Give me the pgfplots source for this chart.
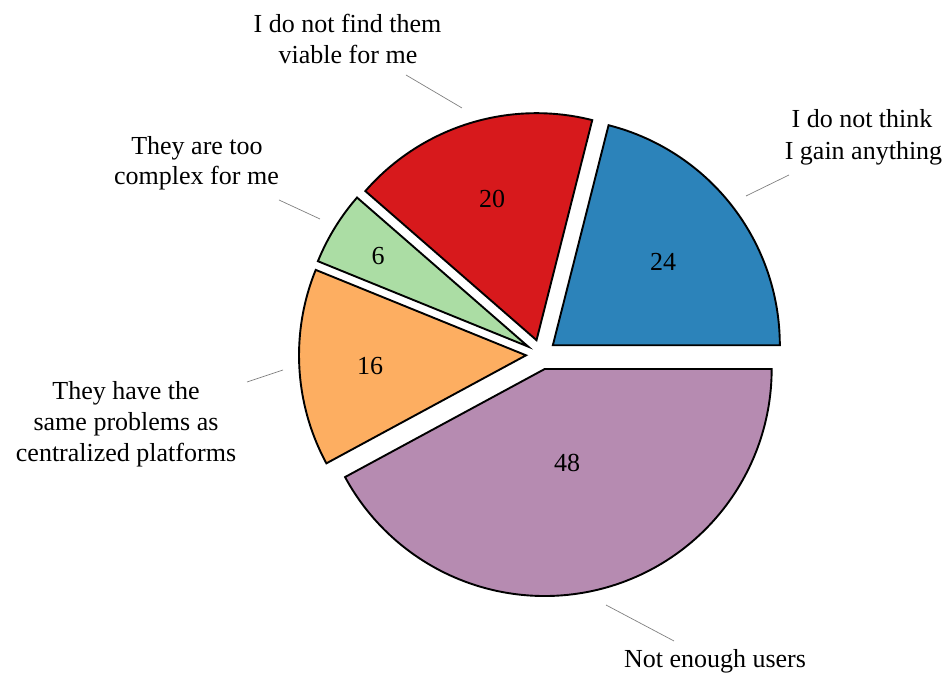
\documentclass[border=0pt]{standalone}
\usepackage{pgfplots}
\pgfplotsset{compat=1.18}
\usepackage{fontspec}
\setmainfont{Liberation Serif}
\definecolor{cA}{HTML}{2C83BA}
\definecolor{cB}{HTML}{D7191C}
\definecolor{cC}{HTML}{ABDDA4}
\definecolor{cD}{HTML}{FDAE61}
\definecolor{cE}{HTML}{B68BB1}
% data
\def\vA{24}\def\vB{20}\def\vC{6}\def\vD{16}\def\vE{48}
\pgfmathsetmacro\total{\vA+\vB+\vC+\vD+\vE}
\pgfmathsetmacro\unit{360/\total}
\pgfmathsetmacro\aA{0}
\pgfmathsetmacro\aB{\aA+\unit*\vA}
\pgfmathsetmacro\aC{\aB+\unit*\vB}
\pgfmathsetmacro\aD{\aC+\unit*\vC}
\pgfmathsetmacro\aE{\aD+\unit*\vD}
\def\aF{360}
\def\cx{541}\def\cy{324.5}\def\rad{227}\def\expl{15}
\newcommand\slice[3]{%
  \pgfmathsetmacro\sm{(#1+#2)/2}%
  \pgfmathsetmacro\sx{\cx+\expl*cos(\sm)}%
  \pgfmathsetmacro\sy{\cy+\expl*sin(\sm)}%
  \edef\doit{\noexpand\addplot[fill=#3, draw=black, line width=1.9pt, line join=miter, domain=#1:#2, samples=120]
    ({\sx+\rad*cos(x)},{\sy+\rad*sin(x)}) -- (axis cs:\sx,\sy) -- cycle;}%
  \doit}
\newcommand\lab{\fontsize{26}{31}\selectfont}
\begin{document}
\begin{tikzpicture}
\begin{axis}[width=951pt,height=679pt,scale only axis,xmin=0,xmax=951,ymin=0,ymax=679,hide axis,clip=false]
\path (axis cs:0,0) rectangle (axis cs:951,679);
\slice{\aA}{\aB}{cA}
\slice{\aB}{\aC}{cB}
\slice{\aC}{\aD}{cC}
\slice{\aD}{\aE}{cD}
\slice{\aE}{\aF}{cE}
% leader lines
\addplot[gray, line width=0.7pt] coordinates {(746,483) (789,504)};
\addplot[gray, line width=0.7pt] coordinates {(406,604) (462,571)};
\addplot[gray, line width=0.7pt] coordinates {(279,479) (320,460)};
\addplot[gray, line width=0.7pt] coordinates {(247,297) (283,309)};
\addplot[gray, line width=0.7pt] coordinates {(606,74) (674,38)};
% values
\node[font=\lab] at (axis cs:663,417) {24};
\node[font=\lab] at (axis cs:492,480) {20};
\node[font=\lab] at (axis cs:378,423) {6};
\node[font=\lab] at (axis cs:370,313) {16};
\node[font=\lab] at (axis cs:567,216) {48};
% labels
\node[font=\lab, anchor=base, inner sep=0] at (axis cs:862,551) {I do not think};
\node[font=\lab, anchor=base, inner sep=0] at (axis cs:863.5,519.5) {I gain anything};
\node[font=\lab, anchor=base, inner sep=0] at (axis cs:347.5,646) {I do not find them};
\node[font=\lab, anchor=base, inner sep=0] at (axis cs:348,615.5) {viable for me};
\node[font=\lab, anchor=base, inner sep=0] at (axis cs:197,524) {They are too};
\node[font=\lab, anchor=base, inner sep=0] at (axis cs:196.5,494) {complex for me};
\node[font=\lab, anchor=base, inner sep=0] at (axis cs:126,279) {They have the};
\node[font=\lab, anchor=base, inner sep=0] at (axis cs:126,248) {same problems as};
\node[font=\lab, anchor=base, inner sep=0] at (axis cs:126,217) {centralized platforms};
\node[font=\lab, anchor=base, inner sep=0] at (axis cs:715,11) {Not enough users};
\end{axis}
\end{tikzpicture}
\end{document}
